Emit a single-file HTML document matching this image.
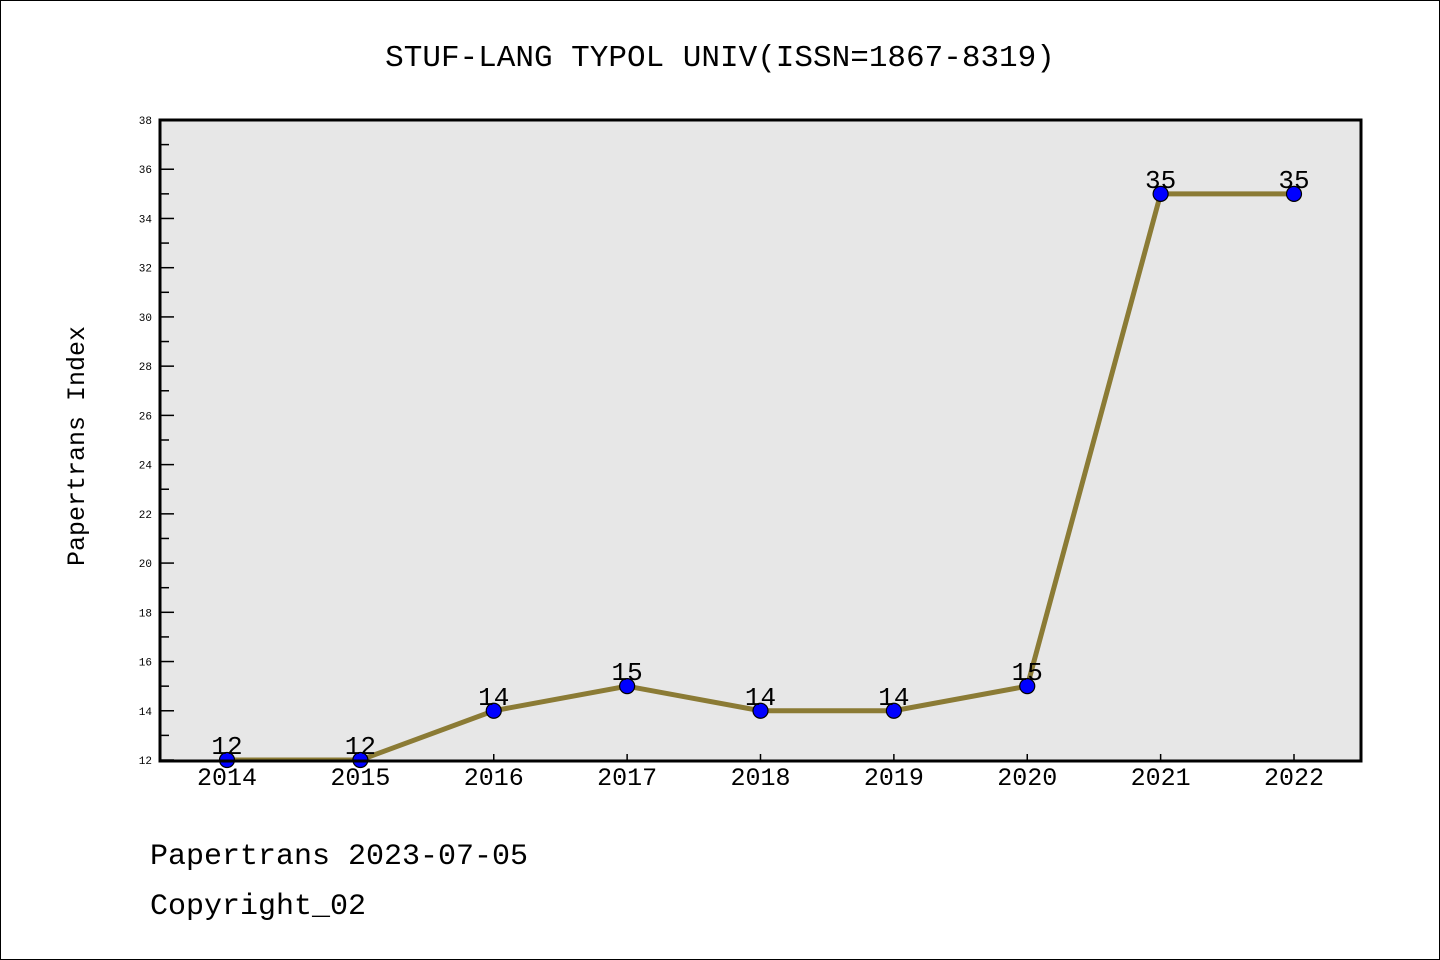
<!DOCTYPE html>
<html><head><meta charset="utf-8"><style>
body{margin:0;background:#fff}
svg{display:block}
text{font-family:"Liberation Mono","DejaVu Sans Mono",monospace}
</style></head><body>
<svg id="c" width="1440" height="960" xmlns="http://www.w3.org/2000/svg">
<rect x="0.5" y="0.5" width="1439" height="959" fill="#fff" stroke="#000"/>
<text x="720" y="66" text-anchor="middle" font-size="31">STUF-LANG TYPOL UNIV(ISSN=1867-8319)</text>
<rect x="160" y="120" width="1201" height="641" fill="#e7e7e7"/>
<g id="yaxis"></g>
<g id="xaxis"></g>
<g id="series"></g>
<rect x="160" y="120" width="1201" height="641" fill="none" stroke="#000" stroke-width="3"/>
<text transform="translate(84,446) rotate(-90)" text-anchor="middle" font-size="25">Papertrans Index</text>
<text x="150" y="864" font-size="30">Papertrans 2023-07-05</text>
<text x="150" y="914" font-size="30">Copyright_02</text>
</svg>
<script>
const years=["2014","2015","2016","2017","2018","2019","2020","2021","2022"];
const values=[12,12,14,15,14,14,15,35,35];
const yTicks=[12,14,16,18,20,22,24,26,28,30,32,34,36,38];
{
const NS="http://www.w3.org/2000/svg";
const yMin=12,yMax=38,yTop=120,yBot=760;
function ys(v){return yBot-(v-yMin)/(yMax-yMin)*(yBot-yTop);}
function xs(i){return 227+i*(1294-227)/(years.length-1);}
function mk(t,a,p){const e=document.createElementNS(NS,t);for(const k in a)e.setAttribute(k,a[k]);p.appendChild(e);return e;}
const ya=document.getElementById('yaxis'),xa=document.getElementById('xaxis'),sg=document.getElementById('series');
for(let v=yMin;v<=yMax;v++){
  const major=(v%2===0);
  const l=mk('line',{x1:160,x2:160+(major?14:9),y1:ys(v),y2:ys(v),stroke:'#000','stroke-width':1.5},ya);
  
  
}
yTicks.forEach(v=>{
  const t=mk('text',{x:152,y:ys(v)+4,'text-anchor':'end','font-size':11,'font-family':'Liberation Sans, sans-serif'},ya);
  t.textContent=v;
  
  
});
years.forEach((y,i)=>{
  const l=mk('line',{x1:xs(i),x2:xs(i),y1:760,y2:754,stroke:'#000','stroke-width':1.5},xa);
  
  
  const t=mk('text',{x:xs(i),y:785,'text-anchor':'middle','font-size':25,'font-family':'Liberation Sans, sans-serif'},xa);
  t.textContent=y;
  
  
});
const pl=mk('polyline',{points:values.map((v,i)=>xs(i)+','+ys(v)).join(' '),fill:'none',stroke:'#8b7b35','stroke-width':5},sg);


values.forEach((v,i)=>{
  const c=mk('circle',{cx:xs(i),cy:ys(v),r:7.5,fill:'#0000ff',stroke:'#000','stroke-width':1.2},sg);
  
  
  const t=mk('text',{x:xs(i),y:ys(v)-6,'text-anchor':'middle','font-size':26,'font-family':'Liberation Sans, sans-serif'},sg);
  t.textContent=v;
  
  
});
}
</script>
</body></html>
